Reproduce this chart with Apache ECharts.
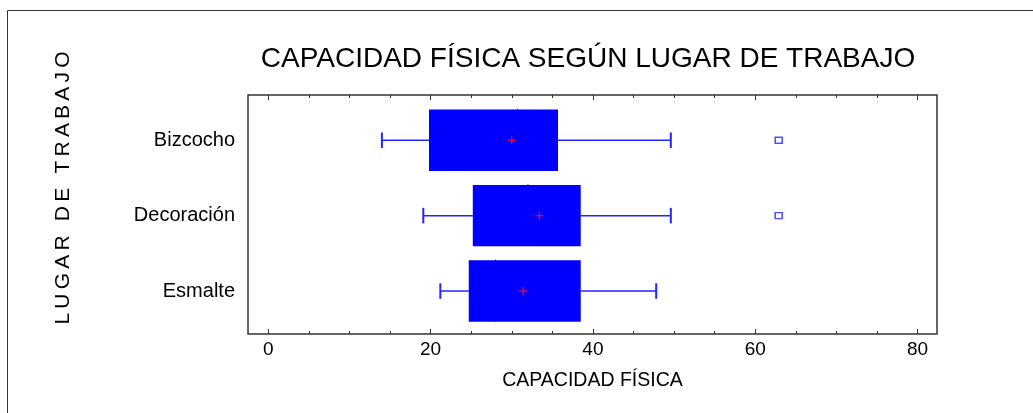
<!DOCTYPE html>
<html>
<head>
<meta charset="utf-8">
<script src="https://cdn.jsdelivr.net/npm/echarts@6/dist/echarts.min.js"></script>
<style>
  html, body { margin: 0; padding: 0; background: #fff; }
  #chart { width: 1033px; height: 413px; }
</style>
</head>
<body>
<div id="chart"></div>
<script>
// datos
const categories = ['Bizcocho', 'Decoración', 'Esmalte'];
const whiskerLow = [14.0, 19.1, 21.2];
const q1 = [19.8, 25.2, 24.7];
const median = [30.7, 32.0, 28.0];
const q3 = [35.7, 38.5, 38.5];
const whiskerHigh = [49.6, 49.6, 47.8];
const means = [30.0, 33.4, 31.4];
const outlierValues = [62.9, 62.9];
const outlierCats = [0, 1];
const xTicks = [0, 20, 40, 60, 80];
const xMinorTicks = [0, 5, 10, 15, 20, 25, 30, 35, 40, 45, 50, 55, 60, 65, 70, 75, 80];

const FONT = "'Liberation Sans', Arial, sans-serif";
const BLUE = '#0000ff';
const LINE = '#2424ff';

let chart = echarts.init(document.getElementById('chart'));

function renderBox(params, api) {
    const y = api.value(0);
    const band = api.size([0, 1])[1];
    const hb = band * 0.407; // media altura caja
    const hc = band * 0.103; // media altura del remate
    const lo = api.coord([api.value(1), y]);
    const b1 = api.coord([api.value(2), y]);
    const md = api.coord([api.value(3), y]);
    const b3 = api.coord([api.value(4), y]);
    const hi = api.coord([api.value(5), y]);
    const mn = api.coord([api.value(6), y]);
    const ls = { stroke: LINE, lineWidth: 1.5 };
    const rs = { stroke: '#f0003c', lineWidth: 1.3 };
    return {
        type: 'group',
        children: [
            { type: 'line', shape: { x1: lo[0], y1: lo[1], x2: b1[0], y2: b1[1] }, style: ls },
            { type: 'line', shape: { x1: b3[0], y1: b3[1], x2: hi[0], y2: hi[1] }, style: ls },
            { type: 'line', shape: { x1: lo[0], y1: lo[1] - hc, x2: lo[0], y2: lo[1] + hc }, style: { stroke: LINE, lineWidth: 2 } },
            { type: 'line', shape: { x1: hi[0], y1: hi[1] - hc, x2: hi[0], y2: hi[1] + hc }, style: { stroke: LINE, lineWidth: 2 } },
            { type: 'rect', shape: { x: b1[0], y: b1[1] - hb, width: b3[0] - b1[0], height: hb * 2 }, style: { fill: BLUE } },
            { type: 'line', shape: { x1: md[0], y1: md[1] - hb - 0.7, x2: md[0], y2: md[1] + hb }, style: { stroke: BLUE, lineWidth: 1 } },
            { type: 'line', shape: { x1: mn[0] - 4, y1: mn[1], x2: mn[0] + 4, y2: mn[1] }, style: rs },
            { type: 'line', shape: { x1: mn[0], y1: mn[1] - 4, x2: mn[0], y2: mn[1] + 4 }, style: rs }
        ]
    };
}

function xAxisDef(position, ticks, len, withLabel) {
    return {
        type: 'value',
        position: position,
        min: -2.5,
        max: 82.4,
        axisLine: { show: false, onZero: false },
        splitLine: { show: false },
        axisTick: { show: true, inside: true, length: len, customValues: ticks, lineStyle: { color: '#333', width: 1 } },
        axisLabel: withLabel
            ? { show: true, customValues: xTicks, color: '#000', fontSize: 19, fontFamily: FONT, margin: 6 }
            : { show: false },
        name: withLabel ? 'CAPACIDAD FÍSICA' : '',
        nameLocation: 'middle',
        nameGap: 37,
        nameTextStyle: { color: '#000', fontSize: 19.5, fontFamily: FONT }
    };
}

const boxData = categories.map((c, i) => [i + 1, whiskerLow[i], q1[i], median[i], q3[i], whiskerHigh[i], means[i]]);
const outlierData = outlierValues.map((v, i) => [v, outlierCats[i] + 1]);

let option = {
    backgroundColor: '#fff',
    animation: false,
    grid: {
        left: 248, right: 96, top: 95, bottom: 79,
        show: true, borderColor: '#333', borderWidth: 1.5, backgroundColor: 'transparent'
    },
    graphic: [
        { type: 'rect', shape: { x: 7.5, y: 10.5, width: 1100, height: 500 }, style: { fill: 'none', stroke: '#333', lineWidth: 1 }, silent: true },
        { type: 'text', x: 588, y: 59, style: { text: 'CAPACIDAD FÍSICA SEGÚN LUGAR DE TRABAJO', font: "28px " + FONT, fill: '#000', align: 'center', verticalAlign: 'middle' } },
        { type: 'text', x: 63, y: 188, rotation: Math.PI / 2, style: { text: 'L\u2009U\u2009G\u2009A\u2009R\u2009 \u2009D\u2009E\u2009 \u2009T\u2009R\u2009A\u2009B\u2009A\u2009J\u2009O', font: "21px " + FONT, fill: '#000', align: 'center', verticalAlign: 'middle' } }
    ],
    xAxis: [
        xAxisDef('bottom', xTicks, 5, true),
        xAxisDef('bottom', xMinorTicks, 3, false),
        xAxisDef('top', xTicks, 5, false),
        xAxisDef('top', xMinorTicks, 3, false)
    ],
    yAxis: {
        type: 'value',
        inverse: true,
        min: 0.4,
        max: 3.57,
        axisLine: { show: false },
        axisTick: { show: false },
        splitLine: { show: false },
        axisLabel: {
            customValues: [1, 2, 3],
            formatter: v => categories[Math.round(v) - 1] || '',
            color: '#000', fontSize: 20, fontFamily: FONT, margin: 13
        }
    },
    series: [
        {
            type: 'custom',
            renderItem: renderBox,
            encode: { x: [1, 2, 3, 4, 5, 6], y: 0 },
            data: boxData,
            z: 2
        },
        {
            type: 'scatter',
            symbol: 'rect',
            symbolSize: [7, 6],
            itemStyle: { color: '#fff', borderColor: LINE, borderWidth: 1.5 },
            data: outlierData,
            z: 3
        }
    ]
};

chart.setOption(option);
</script>
</body>
</html>
